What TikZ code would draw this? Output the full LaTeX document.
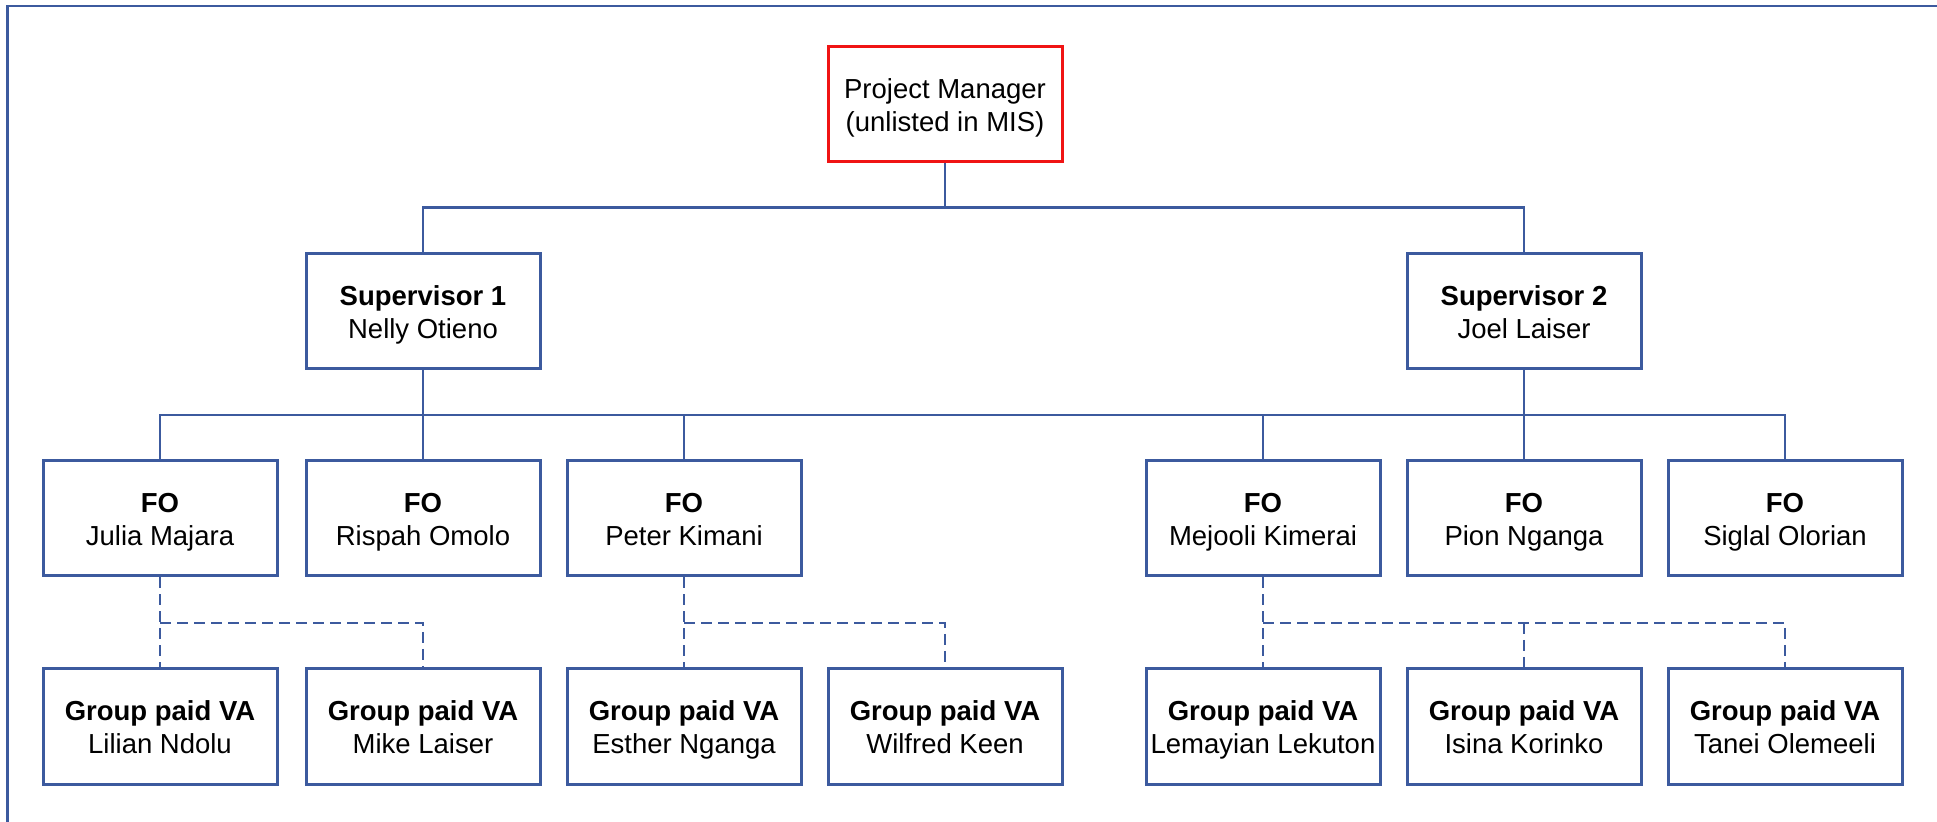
\documentclass[tikz,border=0pt]{standalone}
\usepackage{fontspec}
\setmainfont{Liberation Sans}
\definecolor{orgblue}{RGB}{60,90,158}
\definecolor{orgred}{RGB}{240,20,20}
% two-line label; the taller first strut sets the text slightly low in its box
\newcommand{\twolines}[2]{\rule{0pt}{15.5pt}#1\\#2\strut}
\newcommand{\rolename}[2]{\twolines{\textbf{#1}}{#2}}
\tikzset{
  box/.style={draw=orgblue, line width=1.5pt, fill=white, rectangle,
    minimum width=117pt, minimum height=57.5pt, inner sep=0pt,
    align=center, font=\fontsize{13.75}{16.5}\selectfont},
  topbox/.style={box, draw=orgred},
  link/.style={draw=orgblue, line width=1.1pt},
  dlink/.style={draw=orgblue, line width=1.4pt, dash pattern=on 5.5pt off 3pt},
  frame/.style={draw=orgblue, line width=1.4pt}
}
\begin{document}
\begin{tikzpicture}[x=0.5pt, y=-0.5pt]
\useasboundingbox (0,0) rectangle (1937,822);
% outer frame (top and left edges)
\draw[frame] (1937,6) -| (7.5,822);

% levels
\node[topbox] (pm) at (945,104) {\twolines{Project Manager}{(unlisted in MIS)}};

\node[box] (s1) at (423,311.5) {\rolename{Supervisor 1}{Nelly Otieno}};
\node[box] (s2) at (1524,311.5) {\rolename{Supervisor 2}{Joel Laiser}};

\node[box] (f1) at (160,518.5) {\rolename{FO}{Julia Majara}};
\node[box] (f2) at (423,518.5) {\rolename{FO}{Rispah Omolo}};
\node[box] (f3) at (684,518.5) {\rolename{FO}{Peter Kimani}};
\node[box] (f4) at (1263,518.5) {\rolename{FO}{Mejooli Kimerai}};
\node[box] (f5) at (1524,518.5) {\rolename{FO}{Pion Nganga}};
\node[box] (f6) at (1785,518.5) {\rolename{FO}{Siglal Olorian}};

\node[box] (v1) at (160,726.5) {\rolename{Group paid VA}{Lilian Ndolu}};
\node[box] (v2) at (423,726.5) {\rolename{Group paid VA}{Mike Laiser}};
\node[box] (v3) at (684,726.5) {\rolename{Group paid VA}{Esther Nganga}};
\node[box] (v4) at (945,726.5) {\rolename{Group paid VA}{Wilfred Keen}};
\node[box] (v5) at (1263,726.5) {\rolename{Group paid VA}{Lemayian Lekuton}};
\node[box] (v6) at (1524,726.5) {\rolename{Group paid VA}{Isina Korinko}};
\node[box] (v7) at (1785,726.5) {\rolename{Group paid VA}{Tanei Olemeeli}};

% bus heights
\coordinate (busA) at (0,207.5);
\coordinate (busB) at (0,415);
\coordinate (busC) at (0,623);

% manager to supervisors
\draw[link] (pm.south) -- (pm.south |- busA);
\draw[link] (s1.north) |- (s2.north |- busA) -- (s2.north);

% supervisors to field officers
\draw[link] (f1.north) |- (f6.north |- busB) -- (f6.north);
\draw[link] (s1.south) -- (f2.north);
\draw[link] (s2.south) -- (f5.north);
\draw[link] (f3.north) -- (f3.north |- busB);
\draw[link] (f4.north) -- (f4.north |- busB);

% field officers to group paid VAs
\draw[dlink] (f1.south) -- (v1.north);
\draw[dlink] (v1.north |- busC) -| (v2.north);
\draw[dlink] (f3.south) -- (v3.north);
\draw[dlink] (v3.north |- busC) -| (v4.north);
\draw[dlink] (f4.south) -- (v5.north);
\draw[dlink] (v5.north |- busC) -| (v7.north);
\draw[dlink] (v6.north |- busC) -- (v6.north);
\end{tikzpicture}
\end{document}
